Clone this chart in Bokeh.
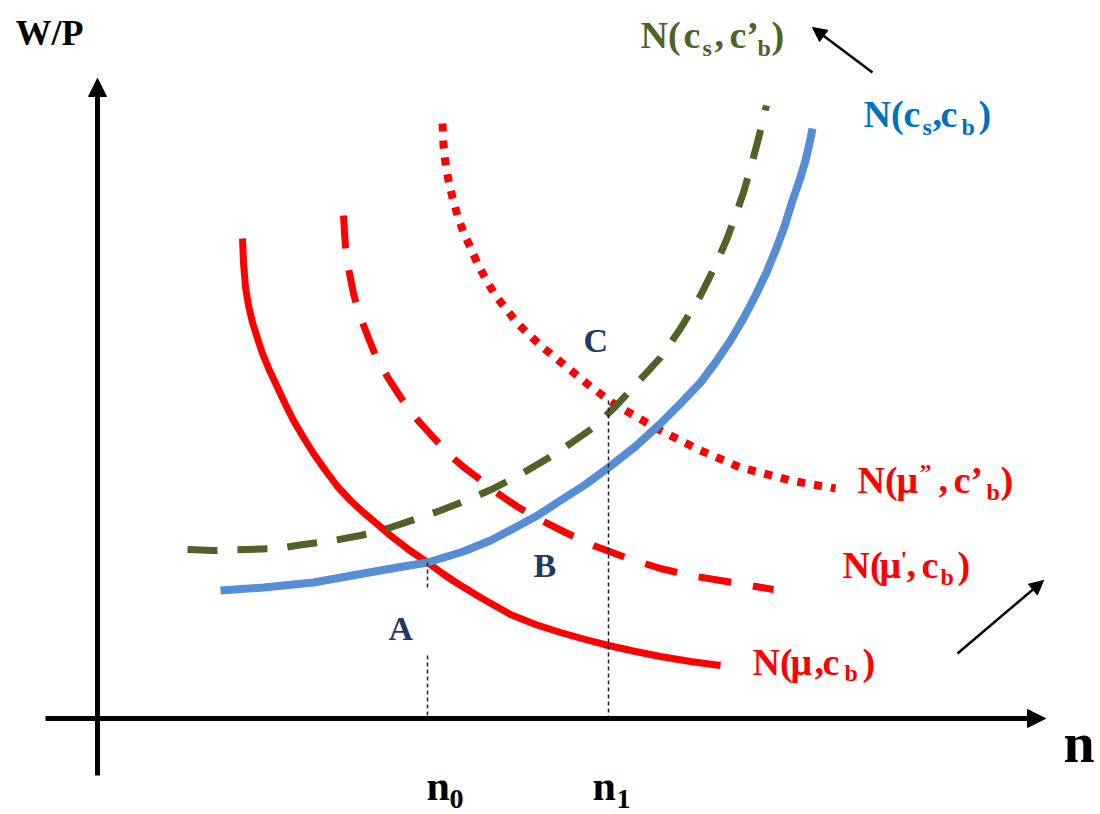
from bokeh.plotting import figure
from bokeh.models import Range1d, Arrow, NormalHead
from bokeh.core.properties import value
from bokeh.embed import file_html
from bokeh.resources import INLINE

# N(mu, c_b)  : red solid
mu_n = [1.45, 1.46, 1.48, 1.51, 1.55, 1.60, 1.65, 1.72, 1.80, 1.88, 1.96, 2.06, 2.16, 2.28, 2.40, 2.53, 2.66,
        2.79, 2.93, 3.11, 3.30, 3.45, 3.60, 3.83, 4.13, 4.38, 4.63, 4.88, 5.11, 5.38, 5.63, 5.93, 6.23]
mu_w = [4.80, 4.56, 4.31, 4.13, 3.96, 3.80, 3.65, 3.48, 3.31, 3.14, 2.98, 2.81, 2.65, 2.48, 2.32, 2.18, 2.06,
        1.95, 1.83, 1.69, 1.56, 1.45, 1.35, 1.21, 1.04, 0.94, 0.86, 0.79, 0.73, 0.67, 0.62, 0.57, 0.53]
# N(mu', c_b) : red dashed
mu1_n = [2.46, 2.47, 2.48, 2.50, 2.53, 2.56, 2.60, 2.65, 2.70, 2.76, 2.83, 2.91, 3.00, 3.08, 3.16, 3.26,
         3.36, 3.46, 3.56, 3.68, 3.80, 3.96, 4.18, 4.40, 4.68, 4.96, 5.28, 5.63, 5.93, 6.23, 6.76]
mu1_w = [5.03, 4.86, 4.71, 4.55, 4.40, 4.25, 4.10, 3.96, 3.83, 3.68, 3.53, 3.40, 3.26, 3.14, 3.03, 2.92,
         2.81, 2.70, 2.60, 2.50, 2.41, 2.28, 2.13, 2.00, 1.86, 1.73, 1.61, 1.50, 1.43, 1.38, 1.29]
# N(mu'', c'_b) : red dotted
mu2_n = [3.45, 3.46, 3.48, 3.51, 3.55, 3.60, 3.66, 3.73, 3.80, 3.89, 3.98, 4.09, 4.20, 4.43, 4.70, 4.93,
         5.16, 5.40, 5.63, 6.03, 6.43, 6.93, 7.38]
mu2_w = [5.95, 5.73, 5.55, 5.38, 5.21, 5.03, 4.86, 4.71, 4.55, 4.38, 4.23, 4.09, 3.95, 3.73, 3.51, 3.32,
         3.15, 3.01, 2.88, 2.68, 2.51, 2.38, 2.30]
# N(c_s, c_b) : blue solid
cs_n = [1.23, 1.66, 2.16, 2.66, 3.00, 3.30, 3.66, 3.93, 4.16, 4.40, 4.63, 4.88, 5.11, 5.38, 5.63, 5.83,
        6.03, 6.18, 6.33, 6.46, 6.58, 6.69, 6.78, 6.87, 6.95, 7.02, 7.08, 7.12, 7.15]
cs_w = [1.28, 1.31, 1.36, 1.45, 1.51, 1.56, 1.67, 1.78, 1.90, 2.03, 2.18, 2.34, 2.51, 2.72, 2.95, 3.15,
        3.36, 3.56, 3.78, 4.00, 4.23, 4.46, 4.68, 4.92, 5.18, 5.38, 5.58, 5.75, 5.90]
# N(c_s, c'_b) : olive dashed
cs1_n = [0.90, 1.16, 1.50, 1.80, 2.06, 2.36, 2.63, 2.90, 3.20, 3.43, 3.76, 3.96, 4.23, 4.50, 4.73, 4.96,
         5.18, 5.40, 5.63, 5.83, 6.03, 6.12, 6.21, 6.30, 6.38, 6.46, 6.53, 6.61, 6.69]
cs1_w = [1.69, 1.68, 1.69, 1.70, 1.74, 1.78, 1.83, 1.90, 2.00, 2.08, 2.21, 2.30, 2.44, 2.60, 2.75, 2.91,
         3.12, 3.36, 3.61, 3.90, 4.23, 4.41, 4.60, 4.81, 5.03, 5.26, 5.50, 5.80, 6.13]
# equilibria n0 (A) and n1 (C)
eq_n = [3.30, 5.11]
eq_w = [1.56, 3.18]

RED = "#FF0000"
BLUE_LINE = "#558ED5"
OLIVE = "#4F6228"
BLUE_TXT = "#0070C0"
NAVY = "#1F3864"
FONT = value("Liberation Serif")

def X(px):
    return (px - 97) / 100.0

def Y(py):
    return (718 - py) / 100.0

p = figure(width=1100, height=814, output_backend="svg", toolbar_location=None,
           x_range=Range1d(X(0), X(1100)), y_range=Range1d(Y(814), Y(0)),
           min_border=0)
p.axis.visible = False
p.grid.visible = False
p.outline_line_color = None
p.background_fill_color = "white"

# axes with arrowheads
p.add_layout(Arrow(end=NormalHead(size=18, fill_color="black", line_color="black"),
                   x_start=X(97), y_start=Y(775), x_end=X(97), y_end=Y(78),
                   line_width=5, line_color="black"))
p.add_layout(Arrow(end=NormalHead(size=18, fill_color="black", line_color="black"),
                   x_start=X(45), y_start=Y(718), x_end=X(1045), y_end=Y(718),
                   line_width=5, line_color="black"))

# curves
p.line(mu_n, mu_w, line_color=RED, line_width=7, line_join="round")
p.line(mu1_n, mu1_w, line_color=RED, line_width=7, line_dash="33 22", line_join="round")
p.line(mu2_n, mu2_w, line_color=RED, line_width=8, line_dash="8 9", line_join="round")
p.line(cs_n, cs_w, line_color=BLUE_LINE, line_width=8, line_join="round")
p.line(cs1_n, cs1_w, line_color=OLIVE, line_width=7, line_dash="30 20", line_join="round")

# dashed drop lines
p.segment(x0=[eq_n[0], eq_n[0], eq_n[1]], y0=[eq_w[0], 0.63, eq_w[1]],
          x1=[eq_n[0], eq_n[0], eq_n[1]], y1=[1.28, 0.0, 0.0],
          line_color="#222222", line_width=1.5, line_dash="4 3")

# shift arrows
p.add_layout(Arrow(end=NormalHead(size=14, fill_color="black", line_color="black"),
                   x_start=X(872), y_start=Y(72), x_end=X(812), y_end=Y(27),
                   line_width=2.5, line_color="black"))
p.add_layout(Arrow(end=NormalHead(size=14, fill_color="black", line_color="black"),
                   x_start=X(957), y_start=Y(653), x_end=X(1043), y_end=Y(580),
                   line_width=2.5, line_color="black"))

def put(pieces, color):
    # (text, left x, baseline y, font px) in picture pixels; the renderer
    # sets glyphs about 0.36 em below the requested baseline, so compensate
    for txt, px, py, size in pieces:
        p.text(x=[X(px)], y=[Y(py - 0.36 * size)], text=[txt], text_font=FONT,
               text_font_style="bold", text_font_size=f"{size}px", text_color=color,
               text_align="left", text_baseline="alphabetic")

put([("W/P", 15, 45, 36)], "black")
put([("n", 1063, 763, 56)], "black")
put([("n", 426, 801, 42), ("0", 449, 809, 28),
     ("n", 592, 801, 42), ("1", 616, 809, 28)], "black")
put([("A", 388, 640, 34), ("B", 533, 577, 34), ("C", 583, 352, 34)], NAVY)

put([("N(", 640, 48, 38), ("c", 683, 48, 38), ("s", 702, 56, 24), (",", 714, 48, 38),
     ("c\u2019", 729, 48, 38), ("b", 757, 56, 24), (")", 771, 48, 38)], OLIVE)
put([("N(", 863, 127, 38), ("c", 903, 127, 38), ("s", 922, 135, 24), (",", 932, 127, 38),
     ("c", 940, 127, 38), ("b", 961, 135, 24), (")", 978, 127, 38)], BLUE_TXT)
put([("N(", 857, 493, 38), ("\u03bc", 896, 493, 38), ("\u201d", 919, 480, 24),
     (",", 938, 493, 38), ("c\u2019", 953, 493, 38), ("b", 986, 500, 24), (")", 1000, 493, 38)], RED)
put([("N(", 842, 578, 38), ("\u03bc", 879, 578, 38), ("'", 900, 567, 24),
     (",", 906, 578, 38), ("c", 921, 578, 38), ("b", 940, 585, 24), (")", 957, 578, 38)], RED)
put([("N(", 752, 675, 38), ("\u03bc", 790, 675, 38), (",", 814, 675, 38),
     ("c", 822, 675, 38), ("b", 844, 681, 24), (")", 862, 675, 38)], RED)

open("out.html", "w").write(file_html(p, INLINE))
